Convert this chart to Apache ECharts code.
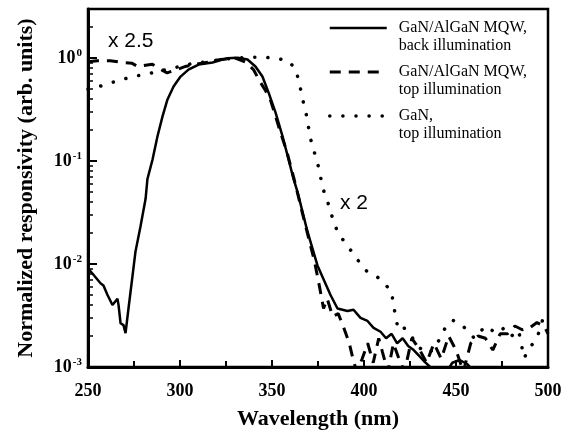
<!DOCTYPE html>
<html>
<head>
<meta charset="utf-8">
<script src="https://cdn.jsdelivr.net/npm/echarts@6/dist/echarts.min.js"></script>
<style>
  html, body { margin: 0; padding: 0; background: #fff; }
  #chart { width: 569px; height: 435px; }
</style>
</head>
<body>
<div id="chart"></div>
<script>
// GaN/AlGaN MQW, back illumination (solid)
const backWl = [250, 252.4, 256.8, 258.4, 260.6, 263.3, 266, 266.6, 267.7, 269.3, 270.4, 272, 274.2, 275.8, 278.5, 281.3, 282.3, 285.1, 287.8, 290.5, 293.2, 296.5, 300.3, 304.6, 310.1, 317.7, 325.8, 331.3, 336.7, 341, 344.8, 348.1, 351.9, 355.7, 359, 361.7, 363.9, 369.3, 374.7, 381.8, 385.6, 391, 394.3, 398.1, 401.9, 405.2, 409, 412, 415, 418, 421, 424, 427, 430, 433, 436, 440, 445, 448, 452, 456, 460];
const backVal = [0.0091, 0.0081, 0.0065, 0.0062, 0.005, 0.004, 0.0046, 0.004, 0.00266, 0.00255, 0.00213, 0.0037, 0.0077, 0.0132, 0.023, 0.043, 0.067, 0.104, 0.175, 0.272, 0.397, 0.531, 0.662, 0.774, 0.865, 0.906, 1.0, 1.01, 0.97, 0.83, 0.662, 0.464, 0.297, 0.175, 0.104, 0.067, 0.05, 0.0206, 0.0097, 0.005, 0.0037, 0.0035, 0.0036, 0.003, 0.0028, 0.0024, 0.0022, 0.0019, 0.0021, 0.0017, 0.0019, 0.0016, 0.00146, 0.00128, 0.00112, 0.001, 0.0009, 0.0009, 0.0011, 0.00117, 0.00107, 0.0009];

// GaN/AlGaN MQW, top illumination (dashed, x 2.5)
const topWl = [250, 255, 262, 268, 274, 277, 285, 290, 293, 298, 303, 308, 315, 322, 330, 336, 340, 343, 346, 349, 352, 355, 358, 362, 366, 370, 373, 376, 378, 380, 383, 386, 389, 392, 394, 396, 399, 402, 405, 408, 410, 413, 416, 419, 422, 426, 430, 434, 438, 442, 446, 450, 454, 458, 462, 466, 470, 474, 478, 482, 486, 490, 494, 498, 500];
const topVal = [0.92, 0.945, 0.945, 0.91, 0.89, 0.83, 0.87, 0.77, 0.72, 0.77, 0.83, 0.87, 0.91, 0.97, 1.0, 0.91, 0.77, 0.61, 0.5, 0.4, 0.27, 0.18, 0.125, 0.067, 0.034, 0.0176, 0.0108, 0.0058, 0.0037, 0.0046, 0.0031, 0.0033, 0.0024, 0.0017, 0.0012, 0.0009, 0.0012, 0.0017, 0.0011, 0.0019, 0.0014, 0.0009, 0.0017, 0.0012, 0.0009, 0.0019, 0.0015, 0.0011, 0.0017, 0.0012, 0.002, 0.00146, 0.0009, 0.0017, 0.002, 0.0019, 0.00146, 0.0021, 0.0021, 0.0025, 0.0023, 0.0024, 0.0027, 0.0025, 0.0021];

// GaN, top illumination (dotted, x 2)
const ganWl = [250, 256, 263, 270, 278, 285, 292, 300, 307, 315, 322, 330, 338, 345, 352, 359, 363, 365, 366.8, 368.5, 371, 375, 376.6, 378.3, 381, 383, 386, 391, 396, 401, 407, 411, 415, 416, 417.5, 418.5, 422, 425, 428, 433, 438, 444, 448, 452, 455, 460, 466, 472, 476, 480, 484, 487, 490, 494, 497, 500];
const ganVal = [0.5, 0.53, 0.58, 0.63, 0.68, 0.72, 0.77, 0.83, 0.89, 0.92, 0.97, 1.0, 1.02, 1.02, 1.0, 0.94, 0.77, 0.555, 0.388, 0.291, 0.163, 0.0914, 0.067, 0.05, 0.0367, 0.0275, 0.0197, 0.0151, 0.0113, 0.00865, 0.00757, 0.00648, 0.00542, 0.00397, 0.00297, 0.00228, 0.00238, 0.00213, 0.0017, 0.00137, 0.00146, 0.00238, 0.00285, 0.00266, 0.00238, 0.0019, 0.0025, 0.00213, 0.00238, 0.00199, 0.00228, 0.00122, 0.00153, 0.0019, 0.00284, 0.00238];

const seriesNames = [
  'GaN/AlGaN MQW,\nback illumination',
  'GaN/AlGaN MQW,\ntop illumination',
  'GaN,\ntop illumination'
];

const serif = '"Liberation Serif", "Times New Roman", serif';
const zip = (xs, ys) => xs.map((x, i) => [x, ys[i]]);

const solidStyle = { color: '#000', width: 2.5 };
const dashStyle = { color: '#000', width: 3, type: [11, 8] };
const dotStyle = { color: '#000', width: 3.5, type: [0.1, 13], cap: 'round' };

const chart = echarts.init(document.getElementById('chart'));

chart.setOption({
  animation: false,
  backgroundColor: '#fff',
  grid: {
    left: 88, right: 21, top: 9, bottom: 66,
    show: true, borderColor: '#000', borderWidth: 2.5
  },
  legend: {
    left: 328, top: 1, padding: 0,
    orient: 'vertical',
    itemGap: -10,
    itemWidth: 57,
    itemHeight: 14,
    formatter: name => '\n' + name,
    // hide the round marker, keep the line
    itemStyle: { opacity: 0 },
    textStyle: { fontFamily: serif, fontSize: 16, color: '#000', lineHeight: 18, padding: [0, 0, 0, 7] },
    data: [
      { name: seriesNames[0], lineStyle: solidStyle },
      { name: seriesNames[1], lineStyle: dashStyle },
      { name: seriesNames[2], lineStyle: dotStyle }
    ]
  },
  xAxis: {
    type: 'value', min: 250, max: 500, interval: 50,
    name: 'Wavelength (nm)', nameLocation: 'middle', nameGap: 41,
    nameTextStyle: { fontFamily: serif, fontSize: 22, fontWeight: 'bold', color: '#000' },
    axisLine: { lineStyle: { color: '#000', width: 3 } },
    axisTick: { inside: true, length: 7, lineStyle: { width: 2 } },
    minorTick: { show: true, splitNumber: 2, length: 6, lineStyle: { color: '#000', width: 2 } },
    axisLabel: { margin: 15, fontFamily: serif, fontSize: 18, fontWeight: 'bold', color: '#000' },
    splitLine: { show: false }
  },
  yAxis: {
    type: 'log', logBase: 10, min: 0.001, max: 3,
    name: 'Normalized responsivity (arb. units)', nameLocation: 'middle', nameGap: 51,
    nameTextStyle: { fontFamily: serif, fontSize: 22, fontWeight: 'bold', color: '#000' },
    axisLine: { lineStyle: { color: '#000', width: 3 } },
    axisTick: { inside: true, length: 9, lineStyle: { width: 2 } },
    minorTick: { show: true, splitNumber: 9, length: 5, lineStyle: { color: '#000', width: 1.5 } },
    axisLabel: {
      margin: 6,
      formatter: v => {
        const l = Math.log10(v);
        const e = Math.round(l);
        if (Math.abs(l - e) > 1e-6) return '';
        return '{b|10}{s|' + e + '}';
      },
      rich: {
        b: { fontFamily: serif, fontSize: 18, fontWeight: 'bold', color: '#000' },
        s: { fontFamily: serif, fontSize: 11, fontWeight: 'bold', color: '#000', padding: [0, 0, 9, 1] }
      }
    },
    splitLine: { show: false }
  },
  graphic: [
    { type: 'text', left: 108, top: 31, style: { text: 'x 2.5', font: '21px "Liberation Sans", Arial, sans-serif', fill: '#000' } },
    { type: 'text', left: 340, top: 193, style: { text: 'x 2', font: '21px "Liberation Sans", Arial, sans-serif', fill: '#000' } }
  ],
  series: [
    {
      name: seriesNames[0], type: 'line', showSymbol: false, symbol: 'none', clip: true,
      lineStyle: solidStyle,
      itemStyle: { color: '#000' },
      data: zip(backWl, backVal)
    },
    {
      name: seriesNames[1], type: 'line', showSymbol: false, symbol: 'none', clip: true,
      lineStyle: dashStyle,
      itemStyle: { color: '#000' },
      data: zip(topWl, topVal)
    },
    {
      name: seriesNames[2], type: 'line', showSymbol: false, symbol: 'none', clip: true,
      lineStyle: dotStyle,
      itemStyle: { color: '#000' },
      data: zip(ganWl, ganVal)
    }
  ]
});
</script>
</body>
</html>
